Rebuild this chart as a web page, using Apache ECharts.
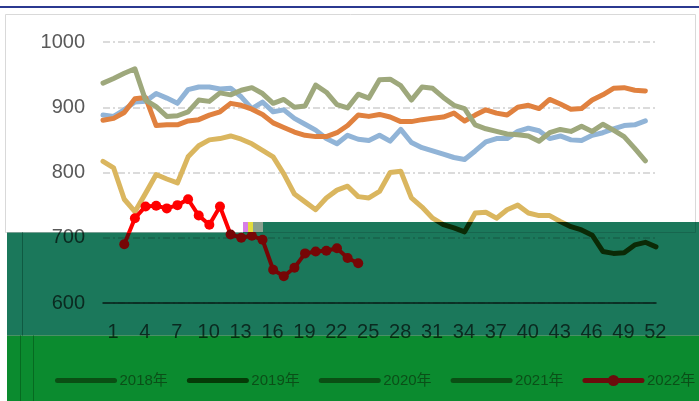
<!DOCTYPE html>
<html>
<head>
<meta charset="utf-8">
<title>周度走势</title>
<script src="https://cdn.jsdelivr.net/npm/echarts@6/dist/echarts.min.js"></script>
<style>
  html, body { margin: 0; padding: 0; background: #fff; }
  #chart { width: 699px; height: 401px; }
</style>
</head>
<body>
<div id="chart"></div>
<script>
// 周次
const weeks = ['1', '2', '3', '4', '5', '6', '7', '8', '9', '10',
  '11', '12', '13', '14', '15', '16', '17', '18', '19', '20',
  '21', '22', '23', '24', '25', '26', '27', '28', '29', '30',
  '31', '32', '33', '34', '35', '36', '37', '38', '39', '40',
  '41', '42', '43', '44', '45', '46', '47', '48', '49', '50',
  '51', '52', '53']
const years = ['2018年', '2019年', '2020年', '2021年', '2022年']
const yTicks = [600, 700, 800, 900, 1000]

const data2018 = [888, 886, 896, 908, 909, 921, 914, 906, 927, 931,
  931, 928, 929, 916, 898, 908, 893, 896, 883, 874,
  865, 852, 844, 857, 851, 849, 857, 848, 866, 846,
  838, 833, 828, 823, 820, 833, 847, 852, 852, 863,
  868, 864, 852, 856, 850, 849, 857, 861, 867, 872, 873, 879]
const data2019 = [880, 883, 892, 913, 915, 872, 873, 873, 879, 881,
  888, 893, 906, 903, 897, 889, 876, 869, 862, 857,
  855, 855, 861, 872, 888, 886, 889, 885, 878, 878,
  881, 883, 885, 891, 879, 888, 896, 891, 888, 900,
  903, 898, 912, 905, 897, 898, 911, 919, 929, 930, 926, 925]
const data2020 = [817, 807, 759, 740, 768, 797, 790, 784, 824, 841,
  850, 852, 856, 851, 844, 834, 824, 798, 767, 755,
  743, 761, 773, 779, 763, 761, 771, 800, 802, 761,
  747, 730, 720, 715, 709, 738, 739, 730, 743, 750,
  738, 734, 734, 725, 717, 712, 704, 679, 676, 677,
  689, 693, 686]
const data2021 = [937, 944, 952, 959, 911, 901, 886, 887, 893, 911,
  909, 922, 919, 926, 930, 921, 906, 912, 900, 902,
  934, 923, 904, 899, 920, 914, 942, 943, 933, 911,
  931, 929, 915, 903, 898, 873, 867, 863, 859, 858,
  856, 848, 861, 866, 863, 871, 863, 874, 865, 855, 837, 818]
const data2022 = [null, null, 690, 730, 748, 749, 745, 750, 759, 734,
  720, 748, 705, 700, 703, 697, 651, 641, 654, 676,
  679, 680, 684, 669, 661]

const font = "'Liberation Sans', 'Noto Sans CJK SC', sans-serif"

const chart = echarts.init(document.getElementById('chart'))

const lines = [
  { data: data2018, color: '#91b4d7', legendColor: '#0a4f14' },
  { data: data2019, color: '#e0813f', legendColor: '#053a07' },
  { data: data2020, color: '#dab65f', legendColor: '#0a4f14' },
  { data: data2021, color: '#9ea87c', legendColor: '#0a4f14' },
  { data: data2022, color: '#ff0000', legendColor: '#6b0c0c' }
]

const series = lines.map((s, i) => {
  const last = i === 4
  return {
    name: years[i],
    type: 'line',
    data: s.data,
    color: s.color,
    symbol: last ? 'circle' : 'none',
    symbolSize: 10,
    showSymbol: last,
    showAllSymbol: true,
    // 颜色不写在 lineStyle 里, 让 visualMap 的渐变生效
    lineStyle: { width: last ? 4 : 5, cap: 'round', join: 'round' }
  }
})

const option = {
  backgroundColor: '#fff',
  animation: false,
  grid: { left: 103, right: 43, top: 42, bottom: 98 },
  xAxis: {
    type: 'category',
    data: weeks,
    boundaryGap: false,
    axisTick: { show: false },
    axisLine: { lineStyle: { color: '#404040', width: 1.5 } },
    axisLabel: {
      interval: 2,
      margin: 19,
      padding: [0, 0, 0, 20],
      fontSize: 20,
      color: '#595959',
      fontFamily: font
    }
  },
  yAxis: {
    type: 'value',
    min: yTicks[0],
    max: yTicks[yTicks.length - 1],
    interval: 100,
    axisLine: { show: false },
    axisTick: { show: false },
    axisLabel: { margin: 18, fontSize: 20, color: '#595959', fontFamily: font, formatter: v => String(v) },
    splitLine: { lineStyle: { color: '#d0d0d0', width: 1.5, type: [7, 3, 2, 3] } }
  },
  // 进入遮罩区域的线段变暗
  visualMap: [
    {
      show: false, type: 'piecewise', seriesIndex: 2, dimension: 1,
      pieces: [{ gte: 0, lt: 724, color: '#0b2a06' }, { gte: 724, lte: 2000, color: '#dab65f' }]
    },
    {
      show: false, type: 'piecewise', seriesIndex: 4, dimension: 1,
      pieces: [{ gte: 0, lt: 708, color: '#760606' }, { gte: 708, lte: 2000, color: '#ff0000' }]
    }
  ],
  legend: {
    left: 50,
    top: 368,
    width: 649,
    itemWidth: 57,
    itemHeight: 14,
    itemGap: 19,
    textStyle: { fontSize: 15, color: '#0b4f18', fontFamily: font },
    data: years.map((name, i) => ({
      name,
      itemStyle: { color: lines[i].legendColor, opacity: i === 4 ? 1 : 0 },
      lineStyle: { color: lines[i].legendColor, width: 5, cap: 'round' }
    }))
  },
  graphic: [
    { type: 'rect', z: 0, shape: { x: 0, y: 6, width: 699, height: 2 }, style: { fill: '#2b3990' } },
    { type: 'rect', z: 0, shape: { x: 5.5, y: 14.5, width: 690, height: 218 }, style: { fill: 'none', stroke: '#d9d9d9', lineWidth: 1 } },
    // 覆盖层
    { type: 'rect', z: 1, shape: { x: 7, y: 232.5, width: 236, height: 103 }, style: { fill: '#1b785b', blend: 'multiply' } },
    { type: 'rect', z: 1, shape: { x: 243, y: 222, width: 456, height: 113.5 }, style: { fill: '#1b785b', blend: 'multiply' } },
    { type: 'rect', z: 1, shape: { x: 7, y: 335.5, width: 692, height: 66 }, style: { fill: '#0b8b2f', blend: 'multiply' } },
    { type: 'rect', z: 5, shape: { x: 243, y: 222, width: 5, height: 10 }, style: { fill: '#d77fe6' } },
    { type: 'rect', z: 5, shape: { x: 248, y: 222, width: 5, height: 10 }, style: { fill: '#e2dc3c' } },
    { type: 'rect', z: 5, shape: { x: 253, y: 222, width: 10, height: 10 }, style: { fill: '#8aa08f' } },
    { type: 'line', z: 5, shape: { x1: 22.5, y1: 232.5, x2: 22.5, y2: 335.5 }, style: { stroke: '#0f5a42', lineWidth: 1 } },
    { type: 'line', z: 5, shape: { x1: 20.5, y1: 335.5, x2: 20.5, y2: 401 }, style: { stroke: '#066a20', lineWidth: 1 } },
    { type: 'line', z: 5, shape: { x1: 33.5, y1: 335.5, x2: 33.5, y2: 401 }, style: { stroke: '#066a20', lineWidth: 1 } }
  ],
  series
}

chart.setOption(option)
</script>
</body>
</html>
